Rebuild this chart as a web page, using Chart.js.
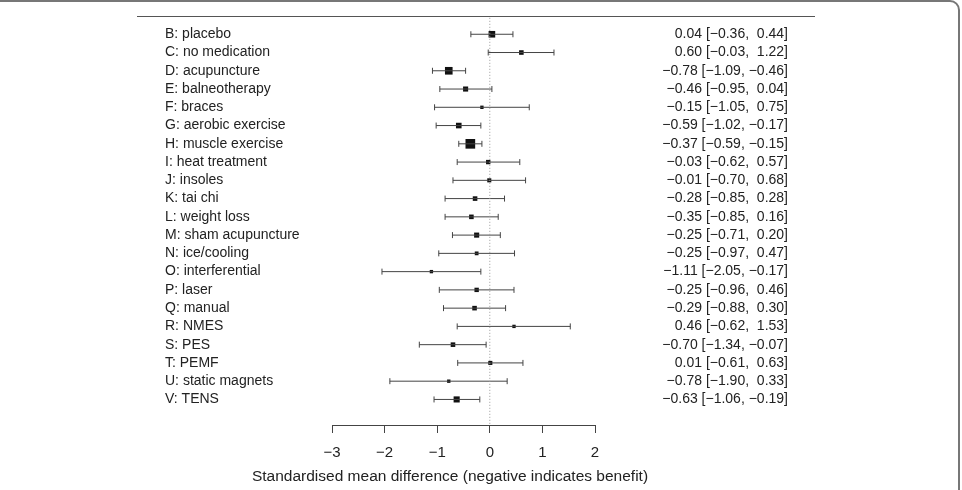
<!DOCTYPE html>
<html lang="en">
<head>
  <meta charset="UTF-8" />
  <title>Forest plot</title>
  <script src="https://cdn.jsdelivr.net/npm/chart.js"></script>
  <style>
    body { margin: 0; padding: 0; background: #fff; }
    canvas { display: block; }
  </style>
</head>
<body>
  <canvas id="forest" width="962" height="490"></canvas>

  <script>
    const treatments = ["B: placebo", "C: no medication", "D: acupuncture", "E: balneotherapy",
      "F: braces", "G: aerobic exercise", "H: muscle exercise", "I: heat treatment", "J: insoles",
      "K: tai chi", "L: weight loss", "M: sham acupuncture", "N: ice/cooling", "O: interferential",
      "P: laser", "Q: manual", "R: NMES", "S: PES", "T: PEMF", "U: static magnets", "V: TENS"];
    const estimate = [0.04, 0.60, -0.78, -0.46, -0.15, -0.59, -0.37, -0.03, -0.01, -0.28, -0.35,
      -0.25, -0.25, -1.11, -0.25, -0.29, 0.46, -0.70, 0.01, -0.78, -0.63];
    const lower = [-0.36, -0.03, -1.09, -0.95, -1.05, -1.02, -0.59, -0.62, -0.70, -0.85, -0.85,
      -0.71, -0.97, -2.05, -0.96, -0.88, -0.62, -1.34, -0.61, -1.90, -1.06];
    const upper = [0.44, 1.22, -0.46, 0.04, 0.75, -0.17, -0.15, 0.57, 0.68, 0.28, 0.16,
      0.20, 0.47, -0.17, 0.46, 0.30, 1.53, -0.07, 0.63, 0.33, -0.19];
    // relative weight of each estimate (drives the box size)
    const weight = [6.5, 4.5, 7.5, 5, 3.3, 5.5, 9.5, 4.3, 4, 4.5, 4.5, 5, 3.7, 3.3, 4.3, 4.5,
      3.3, 4.5, 4, 3.3, 6];
    const xTicks = [-3, -2, -1, 0, 1, 2];
    const xTitle = "Standardised mean difference (negative indicates benefit)";

    const MINUS = "\u2212";
    const fmt = v => (v < 0 ? MINUS : "") + Math.abs(v).toFixed(2);
    const fmtPad = v => (v < 0 ? MINUS : " ") + Math.abs(v).toFixed(2);
    const FAMILY = '"Liberation Sans", Arial, sans-serif';

    const ciLines = [];
    const caps = [];
    const boxes = [];
    treatments.forEach((t, i) => {
      ciLines.push({ x: lower[i], y: i }, { x: upper[i], y: i }, { x: upper[i], y: null });
      caps.push({ x: lower[i], y: i }, { x: upper[i], y: i });
      boxes.push({ x: estimate[i], y: i });
    });

    const decor = {
      id: 'decor',
      afterDraw(chart) {
        const ctx = chart.ctx;
        const yS = chart.scales.y;
        ctx.save();
        // outer frame (top + right edge, rounded corner)
        ctx.strokeStyle = '#777';
        ctx.lineWidth = 2;
        ctx.beginPath();
        ctx.moveTo(0, 1);
        ctx.lineTo(950, 1);
        ctx.arcTo(959, 1, 959, 10, 9);
        ctx.lineTo(959, 490);
        ctx.stroke();
        // line above the plot
        ctx.strokeStyle = '#555';
        ctx.lineWidth = 1;
        ctx.beginPath();
        ctx.moveTo(137, 16.5);
        ctx.lineTo(815, 16.5);
        ctx.stroke();

        ctx.fillStyle = '#222';
        ctx.font = '14px ' + FAMILY;
        ctx.textBaseline = 'middle';
        treatments.forEach((t, i) => {
          const y = yS.getPixelForValue(i);
          ctx.textAlign = 'left';
          ctx.fillText(t, 165, y);
          ctx.textAlign = 'right';
          ctx.fillText(fmt(estimate[i]) + " [" + fmt(lower[i]) + ", " + fmtPad(upper[i]) + "]", 788, y);
        });
        ctx.font = '15.5px ' + FAMILY;
        ctx.textAlign = 'center';
        ctx.fillText(xTitle, 450, 477);
        ctx.restore();
      }
    };

    new Chart(document.getElementById('forest'), {
      type: 'scatter',
      data: {
        datasets: [
          {
            type: 'line',
            data: [{ x: 0, y: -0.9 }, { x: 0, y: 21.35 }],
            borderColor: '#999',
            borderWidth: 1,
            borderDash: [1, 2],
            pointRadius: 0
          },
          {
            type: 'line',
            data: ciLines,
            borderColor: '#444',
            borderWidth: 1,
            pointRadius: 0,
            spanGaps: false
          },
          {
            data: caps,
            pointStyle: 'line',
            rotation: 90,
            pointRadius: 3,
            borderColor: '#444',
            borderWidth: 1
          },
          {
            data: boxes,
            pointStyle: 'rect',
            pointRadius: weight.map(w => w * 0.72),
            backgroundColor: '#111',
            borderWidth: 0
          }
        ]
      },
      options: {
        responsive: false,
        animation: false,
        layout: { padding: { left: 332, right: 367, top: 16, bottom: 25 } },
        plugins: { legend: { display: false }, tooltip: { enabled: false } },
        scales: {
          x: {
            type: 'linear',
            min: -3,
            max: 2,
            afterFit(scale) { scale.height = 40; },
            afterBuildTicks(scale) { scale.ticks = xTicks.map(v => ({ value: v })); },
            grid: { drawOnChartArea: false, drawTicks: true, tickLength: 8, color: '#444' },
            border: { display: true, color: '#444', width: 1 },
            ticks: {
              color: '#222',
              font: { family: FAMILY, size: 15 },
              padding: 11,
              maxRotation: 0,
              callback: v => (v < 0 ? MINUS : "") + Math.abs(v)
            }
          },
          y: {
            type: 'linear',
            display: false,
            reverse: true,
            min: -1,
            max: 21.4
          }
        }
      },
      plugins: [decor]
    });
  </script>
</body>
</html>
